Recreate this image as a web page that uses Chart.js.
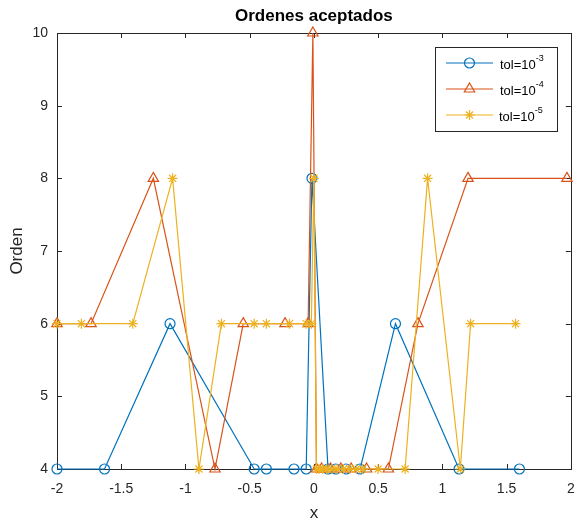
<!DOCTYPE html>
<html>
<head>
<meta charset="utf-8">
<script src="https://cdn.jsdelivr.net/npm/chart.js@4.4.0/dist/chart.umd.min.js"></script>
<style>
  html, body { margin: 0; padding: 0; background: #ffffff; }
  #wrap { width: 578px; height: 524px; }
</style>
</head>
<body>
<div id="wrap"><canvas id="c" width="578" height="524"></canvas></div>
<script>
// Axis ticks
const xTicks = [-2, -1.5, -1, -0.5, 0, 0.5, 1, 1.5, 2];
const yTicks = [4, 5, 6, 7, 8, 9, 10];

// tol = 1e-3
const tol3X = [-2, -1.63, -1.12, -0.465, -0.37, -0.155, -0.06, -0.015, 0.11, 0.17, 0.25, 0.36, 0.635, 1.13, 1.6];
const tol3Y = [4, 4, 6, 4, 4, 4, 4, 8, 4, 4, 4, 4, 6, 4, 4];

// tol = 1e-4
const tol4X = [-2, -1.735, -1.25, -0.77, -0.55, -0.225, -0.045, -0.008, 0.02, 0.06, 0.13, 0.21, 0.29, 0.41, 0.58, 0.81, 1.2, 1.97];
const tol4Y = [6, 6, 8, 4, 6, 6, 6, 10, 4, 4, 4, 4, 4, 4, 4, 6, 8, 8];

// tol = 1e-5
const tol5X = [-2, -1.81, -1.41, -1.1, -0.895, -0.72, -0.465, -0.37, -0.19, -0.06, -0.02, 0, 0.02, 0.04, 0.07, 0.1, 0.14, 0.18, 0.23, 0.28, 0.33, 0.38, 0.5, 0.71, 0.885, 1.14, 1.22, 1.57];
const tol5Y = [6, 6, 6, 8, 4, 6, 6, 6, 6, 6, 6, 8, 4, 4, 4, 4, 4, 4, 4, 4, 4, 4, 4, 4, 8, 4, 6, 6];

const seriesNames = ['-3', '-4', '-5'];
const seriesColors = ['#0072BD', '#D95319', '#EDB120'];
const seriesMarkers = ['circle', 'triangle', 'star'];

const FONT = '"Liberation Sans", Arial, Helvetica, sans-serif';
const AXIS = '#262626';

function pts(xs, ys) { return xs.map((x, i) => ({ x: x, y: ys[i] })); }

function mkSet(i, xs, ys, radius) {
  return {
    label: 'tol=10' + seriesNames[i],
    data: pts(xs, ys),
    showLine: true,
    borderColor: seriesColors[i],
    backgroundColor: 'rgba(0,0,0,0)',
    borderWidth: 1.2,
    pointStyle: seriesMarkers[i],
    pointRadius: radius,
    pointBorderWidth: 1.2,
    pointBorderColor: seriesColors[i],
    pointBackgroundColor: 'rgba(0,0,0,0)',
    tension: 0,
    clip: false,
    order: 2 - i
  };
}

// Box around the axes with inward tick marks on every side
const axesBox = {
  id: 'axesBox',
  beforeDatasetsDraw(chart) {
    const { ctx, chartArea: a, scales: { x, y } } = chart;
    ctx.save();
    ctx.strokeStyle = AXIS;
    ctx.lineWidth = 1;
    ctx.strokeRect(Math.round(a.left) + 0.5, Math.round(a.top) + 0.5,
                   Math.round(a.right - a.left), Math.round(a.bottom - a.top));
    ctx.beginPath();
    const tl = 5;
    xTicks.forEach(v => {
      const px = Math.round(x.getPixelForValue(v)) + 0.5;
      ctx.moveTo(px, a.bottom); ctx.lineTo(px, a.bottom - tl);
      ctx.moveTo(px, a.top); ctx.lineTo(px, a.top + tl);
    });
    yTicks.forEach(v => {
      const py = Math.round(y.getPixelForValue(v)) + 0.5;
      ctx.moveTo(a.left, py); ctx.lineTo(a.left + tl, py);
      ctx.moveTo(a.right, py); ctx.lineTo(a.right - tl, py);
    });
    ctx.stroke();
    ctx.restore();
  }
};

function drawMarker(ctx, style, cx, cy, r) {
  ctx.beginPath();
  if (style === 'circle') {
    ctx.arc(cx, cy, r, 0, Math.PI * 2);
  } else if (style === 'triangle') {
    let rad = 0;
    ctx.moveTo(cx + Math.sin(rad) * r, cy - Math.cos(rad) * r);
    rad += 2 * Math.PI / 3;
    ctx.lineTo(cx + Math.sin(rad) * r, cy - Math.cos(rad) * r);
    rad += 2 * Math.PI / 3;
    ctx.lineTo(cx + Math.sin(rad) * r, cy - Math.cos(rad) * r);
    ctx.closePath();
  } else {
    for (let k = 0; k < 4; k++) {
      const ang = k * Math.PI / 4;
      ctx.moveTo(cx + Math.cos(ang) * r, cy + Math.sin(ang) * r);
      ctx.lineTo(cx - Math.cos(ang) * r, cy - Math.sin(ang) * r);
    }
  }
  ctx.stroke();
}

// Legend with line + marker samples and superscript exponents
const boxLegend = {
  id: 'boxLegend',
  afterDraw(chart) {
    const { ctx } = chart;
    const bx = 435, by = 47, bw = 122, bh = 84;
    ctx.save();
    ctx.fillStyle = '#ffffff';
    ctx.fillRect(bx, by, bw, bh);
    ctx.strokeStyle = AXIS;
    ctx.lineWidth = 1;
    ctx.strokeRect(bx + 0.5, by + 0.5, bw, bh);
    const rows = [63, 89, 115];
    const radii = [5, 6, 5];
    rows.forEach((ry, i) => {
      ctx.strokeStyle = seriesColors[i];
      ctx.lineWidth = 1.2;
      ctx.beginPath();
      ctx.moveTo(446, ry); ctx.lineTo(493, ry);
      ctx.stroke();
      drawMarker(ctx, seriesMarkers[i], 469.5, ry, radii[i]);
      ctx.fillStyle = '#000000';
      ctx.textBaseline = 'middle';
      ctx.textAlign = 'left';
      ctx.font = '13px ' + FONT;
      const base = 'tol=10';
      const tx = i === 2 ? 499 : 500;
      ctx.fillText(base, tx, ry + 2);
      const w = ctx.measureText(base).width;
      ctx.font = '9px ' + FONT;
      ctx.fillText(seriesNames[i], tx + w, ry - 4);
    });
    ctx.restore();
  }
};

new Chart(document.getElementById('c'), {
  type: 'scatter',
  data: {
    datasets: [
      mkSet(0, tol3X, tol3Y, 5),
      mkSet(1, tol4X, tol4Y, 6),
      mkSet(2, tol5X, tol5Y, 5)
    ]
  },
  options: {
    responsive: false,
    animation: false,
    devicePixelRatio: 1,
    layout: { padding: { left: 0, right: 4, top: 0, bottom: 0 } },
    plugins: {
      legend: { display: false },
      tooltip: { enabled: false },
      title: {
        display: true,
        text: 'Ordenes aceptados',
        fullSize: false,
        color: '#000000',
        font: { family: FONT, size: 17, weight: 'bold' },
        padding: { top: 6, bottom: 6.6 }
      }
    },
    scales: {
      x: {
        type: 'linear',
        min: -2, max: 2,
        afterBuildTicks: s => { s.ticks = xTicks.map(v => ({ value: v })); },
        afterFit: s => { s.height = 55; s.paddingLeft = 0; s.paddingRight = 0; },
        grid: { display: false, drawTicks: false },
        border: { display: false },
        ticks: {
          autoSkip: false, maxRotation: 0, padding: 12,
          color: AXIS, font: { family: FONT, size: 14 },
          callback: v => String(v)
        },
        title: {
          display: true, text: 'x', color: AXIS,
          font: { family: FONT, size: 17 }, padding: { top: 0, bottom: 0 }
        }
      },
      y: {
        type: 'linear',
        min: 4, max: 10,
        afterBuildTicks: s => { s.ticks = yTicks.map(v => ({ value: v })); },
        afterFit: s => { s.width = 57; s.paddingTop = 0; s.paddingBottom = 0; },
        grid: { display: false, drawTicks: false },
        border: { display: false },
        ticks: {
          autoSkip: false, padding: 9,
          color: AXIS, font: { family: FONT, size: 14 },
          callback: v => String(v)
        },
        title: {
          display: true, text: 'Orden', color: AXIS,
          font: { family: FONT, size: 17 }, padding: { top: 7, bottom: 0 }
        }
      }
    }
  },
  plugins: [axesBox, boxLegend]
});
</script>
</body>
</html>
